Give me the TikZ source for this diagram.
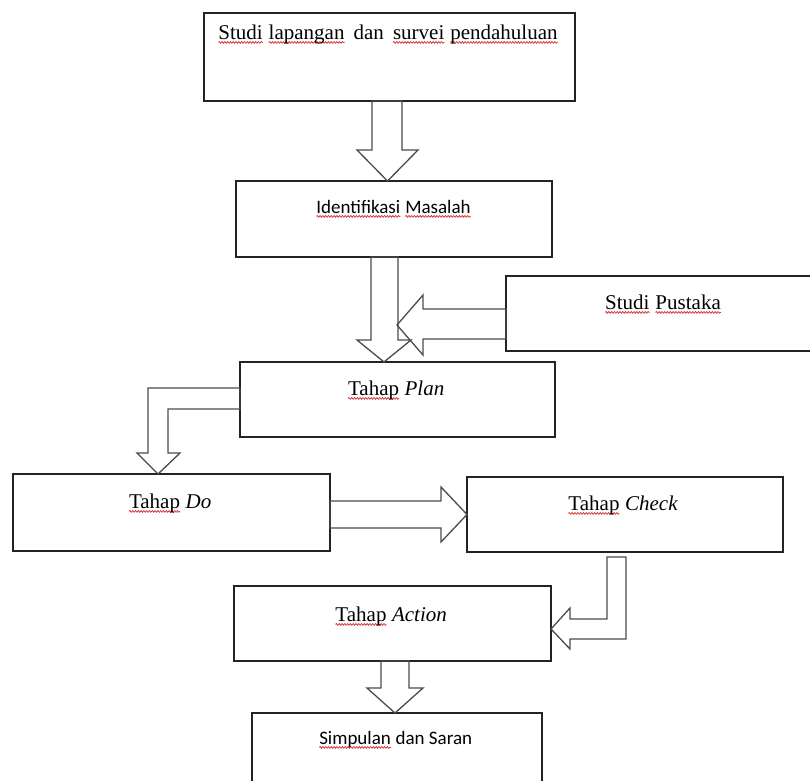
\documentclass[tikz,border=0pt]{standalone}
\usepackage{fontspec}
\setmainfont{Liberation Serif}
\newfontfamily\calfont{Carlito}
\usetikzlibrary{calc,decorations.pathmorphing}
\definecolor{spellred}{RGB}{215,45,45}
\definecolor{boxc}{RGB}{35,35,35}
\definecolor{arrc}{RGB}{75,75,75}
\newsavebox\sqbox
\newcommand\sq[1]{\sbox\sqbox{#1}\tikz[baseline=0pt]{\draw[spellred,line width=0.7pt,decorate,decoration={snake,amplitude=0.9pt,segment length=2.8pt}] (0pt,-3.4pt) -- (\wd\sqbox,-3.4pt);\pgftext[base,left]{\usebox\sqbox}}}
\begin{document}
\begin{tikzpicture}[x=1pt,y=-1pt,
  box/.style={draw=boxc,line width=1.4pt,rectangle,inner sep=0pt,outer sep=0pt},
  lbl/.style={inner sep=0pt,outer sep=0pt,anchor=base,font=\fontsize{21}{25}\selectfont},
  slbl/.style={inner sep=0pt,outer sep=0pt,anchor=base,font=\calfont\fontsize{19}{23}\selectfont},
  barrow/.style={draw=arrc,line width=1.3pt,line join=miter}]
\useasboundingbox (0,0) rectangle (810,780);
\clip (0,0) rectangle (810,780);
% boxes
\node[box,minimum width=371pt,minimum height=88pt] (b1) at (389.5,57) {};
\node[box,minimum width=316pt,minimum height=76pt] (b2) at (394,219) {};
\node[box,minimum width=324pt,minimum height=75pt] (pus) at (668,313.5) {};
\node[box,minimum width=315pt,minimum height=75pt] (plan) at (397.5,399.5) {};
\node[box,minimum width=317pt,minimum height=77pt] (do) at (171.5,512.5) {};
\node[box,minimum width=316pt,minimum height=75pt] (chk) at (625,514.5) {};
\node[box,minimum width=317pt,minimum height=75pt] (act) at (392.5,623.5) {};
\node[box,minimum width=290pt,minimum height=87pt] (simp) at (397,756.5) {};
% labels
\node[lbl] (t1) at (388,39) {\sq{Studi} \sq{lapangan}\, dan\, \sq{survei} \sq{pendahuluan}};
\node[slbl] (t2) at (393.5,213) {\sq{Identifikasi} \sq{Masalah}};
\node[lbl] (t3) at (663,309) {\sq{Studi} \sq{Pustaka}};
\node[lbl] (t4) at (396,395) {\sq{Tahap} \textit{Plan}};
\node[lbl] (t5) at (170,508) {\sq{Tahap} \textit{Do}};
\node[lbl] (t6) at (623,510) {\sq{Tahap} \textit{Check}};
\node[lbl] (t7) at (391,621) {\sq{Tahap} \textit{Action}};
\node[slbl] (t8) at (395.5,744) {\sq{Simpulan} dan Saran};
% block arrows
\draw[barrow] (372,0 |- b1.south) -- (372,150) -- (357,150) -- (387.5,0 |- b2.north) -- (418,150) -- (402,150) -- (402,0 |- b1.south) -- cycle;
\draw[barrow] (371,0 |- b2.south) -- (371,340) -- (357,340) -- (384,0 |- plan.north) -- (411,340) -- (398,340) -- (398,0 |- b2.south) -- cycle;
\draw[barrow] (pus.west |- 0,309) -- (423,309) -- (423,295) -- (397,325) -- (423,355) -- (423,339) -- (pus.west |- 0,339) -- cycle;
\draw[barrow] (plan.west |- 0,388) -- (148,388) -- (148,453) -- (137,453) -- (158,0 |- do.north) -- (180,453) -- (168,453) -- (168,409) -- (plan.west |- 0,409) -- cycle;
\draw[barrow] (do.east |- 0,501) -- (441,501) -- (441,487) -- (chk.west |- 0,514.5) -- (441,542) -- (441,528) -- (do.east |- 0,528) -- cycle;
\draw[barrow] ($(607,0 |- chk.south)+(0,5)$) -- ($(626,0 |- chk.south)+(0,5)$) -- (626,639) -- (570,639) -- (570,649) -- (act.east |- 0,629) -- (570,608) -- (570,619) -- (607,619) -- cycle;
\draw[barrow] (381,0 |- act.south) -- (381,688) -- (367,688) -- (395,0 |- simp.north) -- (423,688) -- (409,688) -- (409,0 |- act.south) -- cycle;
\end{tikzpicture}
\end{document}
